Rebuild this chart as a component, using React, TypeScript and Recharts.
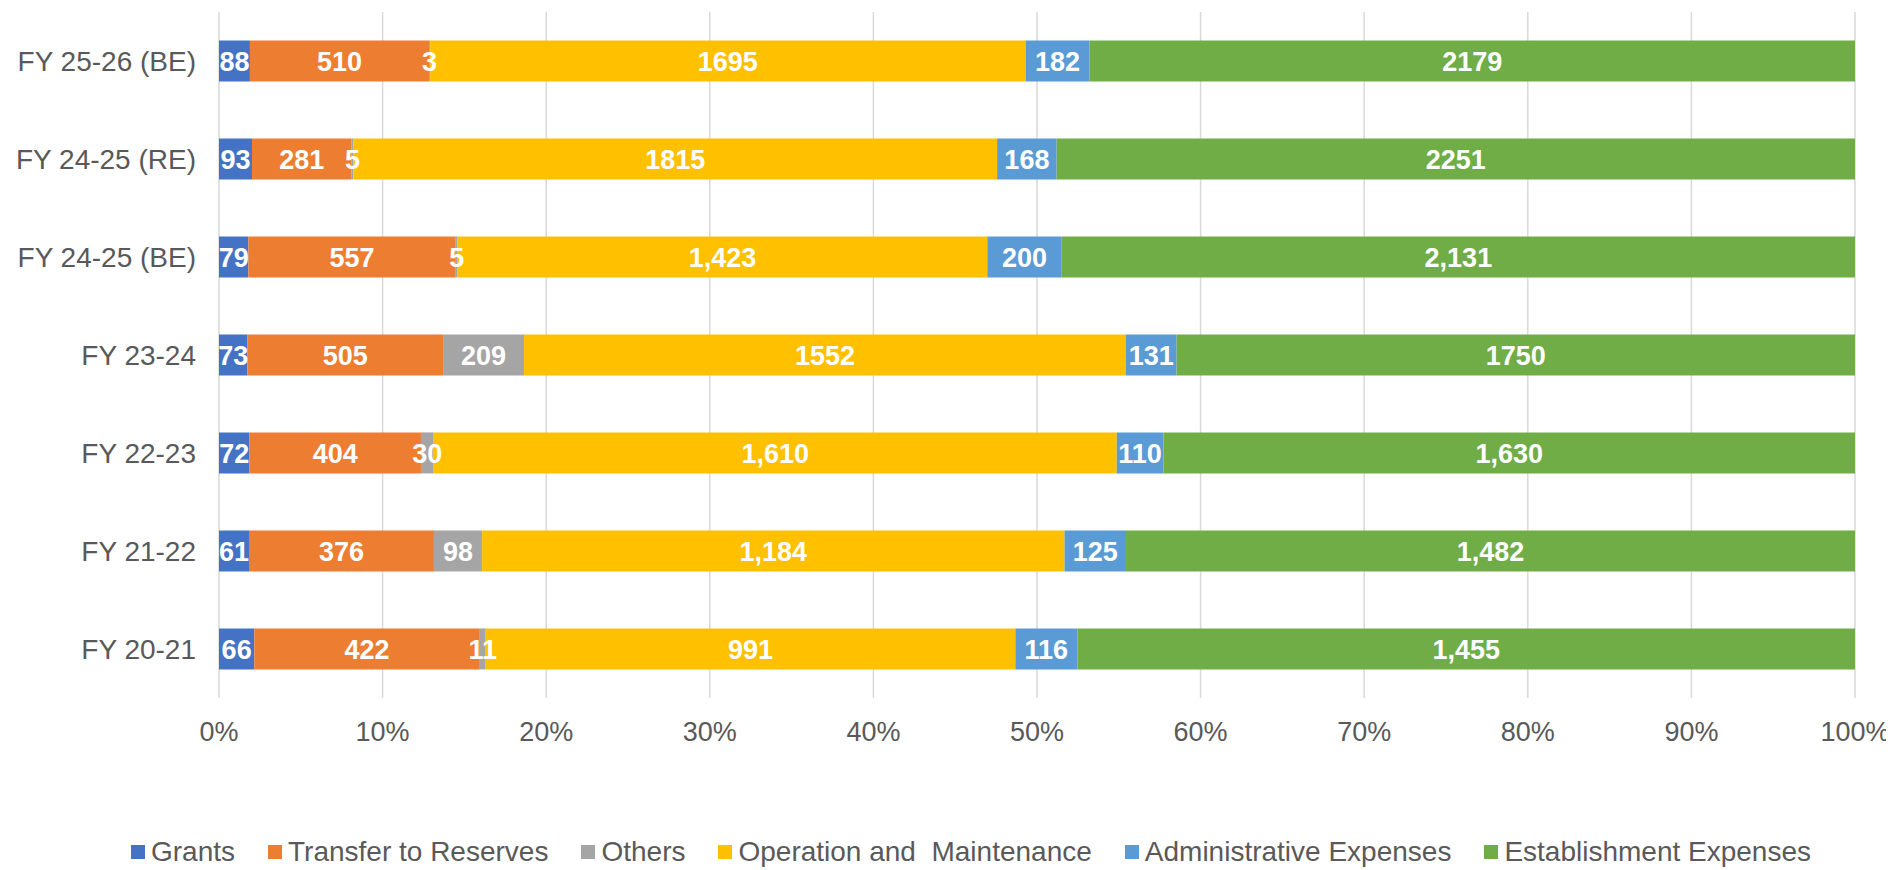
import React from "react";
import {
  BarChart,
  Bar,
  XAxis,
  YAxis,
  CartesianGrid,
  Legend,
  LabelList,
} from "recharts";

// Expenditure mix per financial year, drawn as 100% stacked horizontal bars

const categories = [
  "FY 25-26 (BE)",
  "FY 24-25 (RE)",
  "FY 24-25 (BE)",
  "FY 23-24",
  "FY 22-23",
  "FY 21-22",
  "FY 20-21",
];
const grants = [88, 93, 79, 73, 72, 61, 66];
const transfer = [510, 281, 557, 505, 404, 376, 422];
const others = [3, 5, 5, 209, 30, 98, 11];
const operation = [1695, 1815, 1423, 1552, 1610, 1184, 991];
const admin = [182, 168, 200, 131, 110, 125, 116];
const establishment = [2179, 2251, 2131, 1750, 1630, 1482, 1455];
// some rows in the source show thousands separators, others don't
const withComma = [false, false, true, false, true, true, true];
const xTicks = [0, 0.1, 0.2, 0.3, 0.4, 0.5, 0.6, 0.7, 0.8, 0.9, 1];

const series = [
  { key: "grants", name: "Grants", color: "#4472C4", values: grants },
  { key: "transfer", name: "Transfer to Reserves", color: "#ED7D31", values: transfer },
  { key: "others", name: "Others", color: "#A5A5A5", values: others },
  { key: "operation", name: "Operation and  Maintenance", color: "#FFC000", values: operation },
  { key: "admin", name: "Administrative Expenses", color: "#5B9BD5", values: admin },
  { key: "establishment", name: "Establishment Expenses", color: "#70AD47", values: establishment },
];

const FONT = "'Liberation Sans', Arial, sans-serif";
const TEXT = "#595959";

const fmt = (v: number, comma: boolean) =>
  comma ? v.toLocaleString("en-US") : String(v);

const data = categories.map((name, i) => {
  const row: any = { name };
  series.forEach((s) => {
    row[s.key] = s.values[i];
    row[s.key + "Label"] = fmt(s.values[i], withComma[i]);
  });
  return row;
});

const LegendContent = () => (
  <div
    style={{
      display: "flex",
      justifyContent: "center",
      paddingLeft: 112,
      fontFamily: FONT,
      fontSize: 28,
      color: TEXT,
      whiteSpace: "pre",
      lineHeight: "32px",
    }}
  >
    {series.map((s) => (
      <div
        key={s.key}
        style={{ display: "flex", alignItems: "center", marginRight: 33 }}
      >
        <span
          style={{
            width: 14,
            height: 14,
            background: s.color,
            display: "inline-block",
            marginRight: 6,
          }}
        />
        <span>{s.name}</span>
      </div>
    ))}
  </div>
);

const App = () => {
  return (
    <div style={{ fontFamily: FONT }}>
      <BarChart
        width={1886}
        height={862}
        data={data}
        layout="vertical"
        stackOffset="expand"
        barCategoryGap="29%"
        margin={{ top: 4, right: 39, left: 0, bottom: 2 }}
      >
        <CartesianGrid horizontal={false} stroke="#D9D9D9" strokeWidth={1.5} />
        <XAxis
          type="number"
          domain={[0, 1]}
          ticks={xTicks}
          tickFormatter={(v: number) => `${Math.round(v * 100)}%`}
          axisLine={false}
          tickLine={false}
          tickSize={0}
          tickMargin={24}
          height={138}
          interval={0}
          tick={{ fill: TEXT, fontSize: 27, fontFamily: FONT }}
        />
        <YAxis
          type="category"
          dataKey="name"
          width={211}
          axisLine={false}
          tickLine={false}
          tickSize={0}
          tickMargin={23}
          interval={0}
          tick={{ fill: TEXT, fontSize: 28, fontFamily: FONT }}
        />
        <Legend verticalAlign="bottom" content={<LegendContent />} />
        {series.map((s) => (
          <Bar
            key={s.key}
            dataKey={s.key}
            name={s.name}
            stackId="a"
            fill={s.color}
            isAnimationActive={false}
          >
            <LabelList
              dataKey={s.key + "Label"}
              position="center"
              fill="#FFFFFF"
              fontSize={27}
              fontWeight="bold"
              fontFamily={FONT}
            />
          </Bar>
        ))}
      </BarChart>
    </div>
  );
};

export default App;
